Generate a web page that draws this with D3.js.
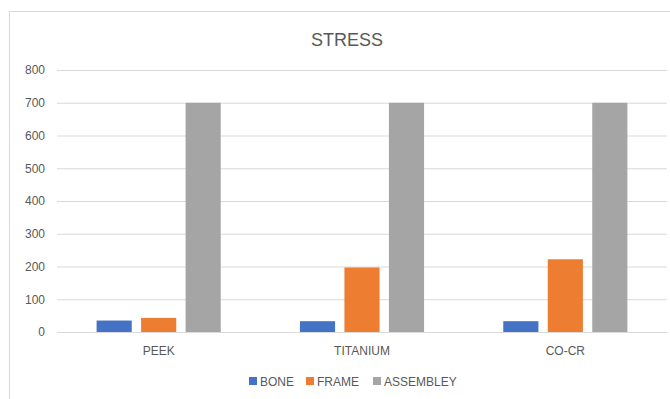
<!DOCTYPE html>
<html><head><meta charset="utf-8">
<script src="https://cdn.jsdelivr.net/npm/d3@7"></script>
<style>body{margin:0;background:#fff;} svg{display:block;font-family:"Liberation Sans Narrow","Liberation Sans",Arial,sans-serif;}</style>
</head><body>
<svg id="c" width="670" height="399"></svg>
<script>
const categories = ["PEEK", "TITANIUM", "CO-CR"];
const seriesNames = ["BONE", "FRAME", "ASSEMBLEY"];
const bone = [35, 33, 33];
const frame = [43, 197, 222];
const assembley = [700, 700, 700];
const yTicks = [0, 100, 200, 300, 400, 500, 600, 700, 800];
const colors = ["#4472C4", "#ED7D31", "#A5A5A5"];

const series = [bone, frame, assembley];
const svg = d3.select("#c");
svg.append("rect").attr("x", 9.5).attr("y", 11.5).attr("width", 670).attr("height", 400)
  .attr("fill", "#fff").attr("stroke", "#d9d9d9");

const m = {left: 57, right: 667, top: 70, bottom: 332};
const x = d3.scaleBand().domain(categories).range([m.left, m.right]);
const x1 = d3.scaleBand().domain(seriesNames).range([0, x.bandwidth()]).paddingInner(0.21).paddingOuter(0.89);
const y = d3.scaleLinear().domain([0, 800]).range([m.bottom, m.top]);

const yAxis = d3.axisLeft(y).tickValues(yTicks).tickSize(-(m.right - m.left)).tickPadding(10);
const gy = svg.append("g").attr("transform", `translate(${m.left},0)`).call(yAxis);
gy.select(".domain").remove();
gy.selectAll(".tick line").attr("stroke", "#d9d9d9");
gy.selectAll(".tick text").attr("fill", "#595959").style("font-size", "12px").attr("x", -12);

const xAxis = d3.axisBottom(x).tickSize(0).tickPadding(14);
const gx = svg.append("g").attr("transform", `translate(0,${m.bottom})`).call(xAxis);
gx.select(".domain").attr("stroke", "#d9d9d9");
gx.selectAll(".tick text").attr("fill", "#595959").style("font-size", "12px");

categories.forEach((c, i) => {
  series.forEach((s, j) => {
    svg.append("rect")
      .attr("x", x(c) + x1(seriesNames[j]))
      .attr("width", x1.bandwidth())
      .attr("y", y(s[i]))
      .attr("height", y(0) - y(s[i]))
      .attr("fill", colors[j]);
  });
});

svg.append("text").attr("x", 347).attr("y", 46).attr("text-anchor", "middle")
  .attr("fill", "#595959").style("font-size", "18px").text("STRESS");

const legendX = [249, 306, 373];
const lg = svg.append("g");
seriesNames.forEach((n, j) => {
  lg.append("rect").attr("x", legendX[j]).attr("y", 377).attr("width", 8).attr("height", 8).attr("fill", colors[j]);
  lg.append("text").attr("x", legendX[j] + 11).attr("y", 385.5).attr("fill", "#595959")
    .style("font-size", "12px").text(n);
});
</script>
</body></html>
